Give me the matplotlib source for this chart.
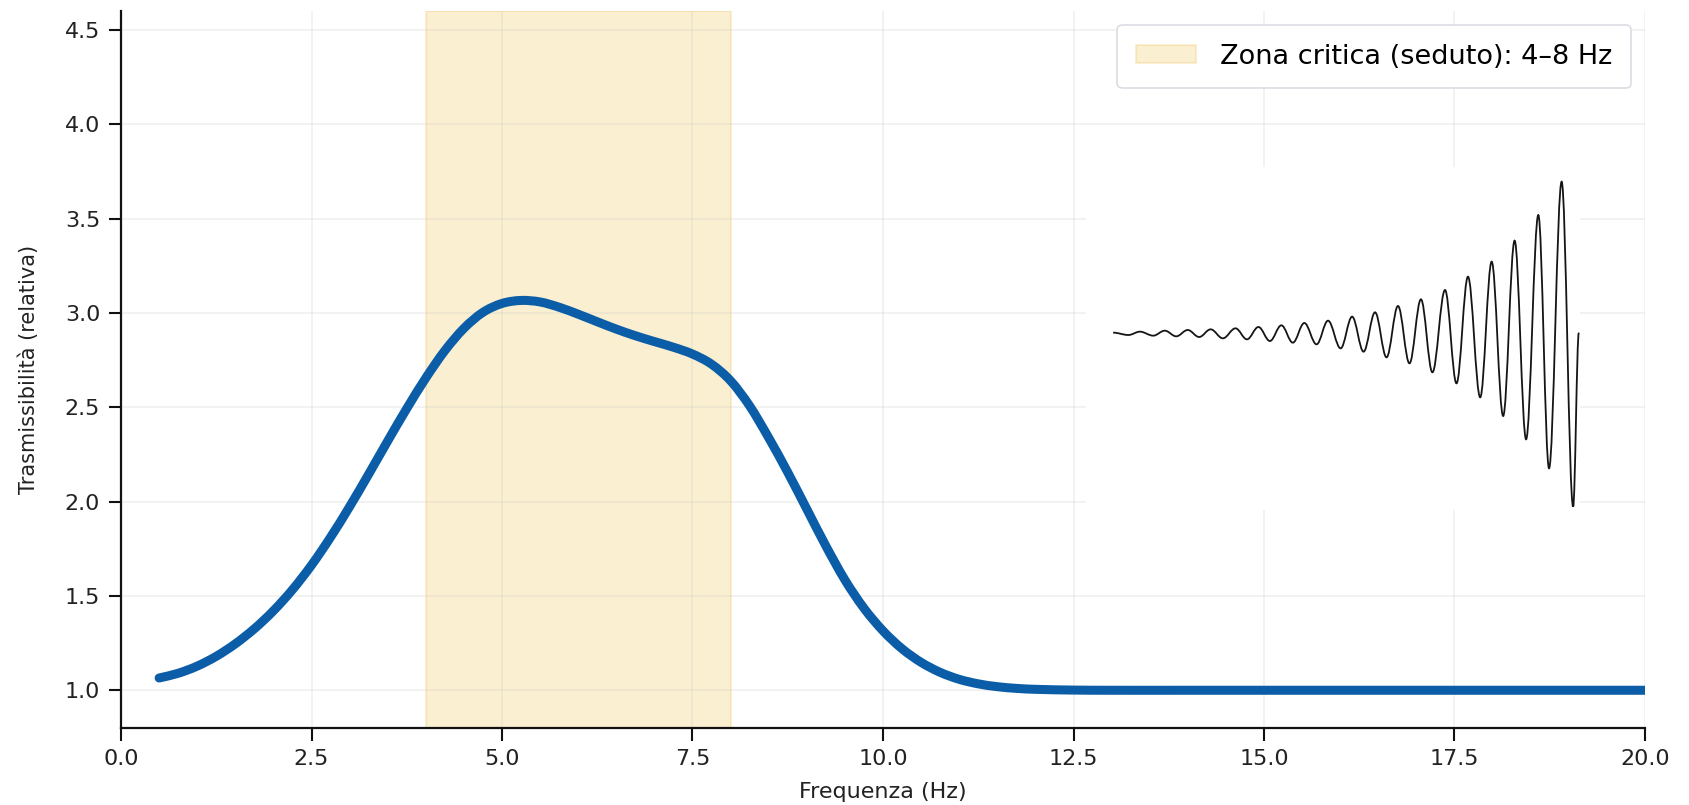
import numpy as np
import matplotlib
matplotlib.use("Agg")
import matplotlib.pyplot as plt
from matplotlib.path import Path
from matplotlib.patches import PathPatch

# ---- data ----
freq_hz = [0.5, 0.75, 1.0, 1.25, 1.5, 1.75, 2.0, 2.25, 2.5, 2.75, 3.0, 3.25,
           3.5, 3.75, 4.0, 4.25, 4.5, 4.75, 5.0, 5.25, 5.5, 5.75, 6.0, 6.25,
           6.5, 6.75, 7.0, 7.25, 7.5, 7.75, 8.0, 8.25, 8.5, 8.75, 9.0, 9.25,
           9.5, 9.75, 10.0, 10.25, 10.5, 10.75, 11.0, 11.25, 11.5, 11.75, 12.0,
           12.5, 13.0, 14.0, 15.0, 16.0, 17.0, 18.0, 19.0, 20.0]
transmissibility = [1.065, 1.09, 1.128, 1.18, 1.246, 1.326, 1.421, 1.533, 1.663,
                    1.811, 1.973, 2.145, 2.321, 2.493, 2.655, 2.80, 2.918, 3.003,
                    3.05, 3.066, 3.058, 3.03, 2.993, 2.953, 2.914, 2.879, 2.848,
                    2.818, 2.782, 2.728, 2.64, 2.507, 2.338, 2.155, 1.96, 1.765,
                    1.585, 1.435, 1.315, 1.22, 1.148, 1.095, 1.058, 1.034, 1.019,
                    1.01, 1.005, 1.001, 1.0, 1.0, 1.0, 1.0, 1.0, 1.0, 1.0, 1.0]

band_lo, band_hi = 4.0, 8.0
band_label = "Zona critica (seduto): 4–8 Hz"

# decorative waveform in the inset: extrema positions (a.u.) and amplitudes (a.u.)
wave_t = [165, 205, 235, 270, 300, 330, 360, 390, 420, 452, 485, 515, 545, 575,
          605, 635, 665, 697, 727, 760, 790, 820, 850, 880, 910, 940, 970, 1000,
          1033, 1063, 1093, 1125, 1155, 1185, 1215, 1245, 1277, 1305, 1338, 1368,
          1383]
wave_amp = [0, -7, 3, -9, 6, -11, 8, -13, 10, -17, 13, -20, 17, -25, 22, -30, 29,
            -35, 36, -47, 48, -57, 61, -74, 80, -92, 100, -119, 128, -152, 168,
            -194, 213, -250, 276, -320, 353, -407, 453, -522, 0]

xticks = [0.0, 2.5, 5.0, 7.5, 10.0, 12.5, 15.0, 17.5, 20.0]
yticks = [1.0, 1.5, 2.0, 2.5, 3.0, 3.5, 4.0, 4.5]


def smooth_path(xs, ys):
    """Catmull-Rom through the points, expressed as cubic Bezier segments."""
    pts = np.column_stack([xs, ys]).astype(float)
    n = len(pts)
    verts = [pts[0]]
    codes = [Path.MOVETO]
    for i in range(n - 1):
        p0 = pts[max(i - 1, 0)]
        p1 = pts[i]
        p2 = pts[i + 1]
        p3 = pts[min(i + 2, n - 1)]
        h = p2[0] - p1[0]
        t1 = (p2 - p0) / (p2[0] - p0[0]) * h if p2[0] != p0[0] else p2 - p1
        t2 = (p3 - p1) / (p3[0] - p1[0]) * h if p3[0] != p1[0] else p2 - p1
        c1 = p1 + t1 / 3.0
        c2 = p2 - t2 / 3.0
        verts += [c1, c2, p2]
        codes += [Path.CURVE4] * 3
    return Path(verts, codes)


def wave_path(ts, ys, k=0.3642):
    """Half-wave cubic segments with horizontal tangents at each extremum."""
    verts = [(ts[0], ys[0])]
    codes = [Path.MOVETO]
    for i in range(len(ts) - 1):
        t0, y0, t1, y1 = ts[i], ys[i], ts[i + 1], ys[i + 1]
        dt = t1 - t0
        verts += [(t0 + k * dt, y0), (t1 - k * dt, y1), (t1, y1)]
        codes += [Path.CURVE4] * 3
    return Path(verts, codes)


plt.rcParams['font.family'] = ['DejaVu Sans']

W, H = 1689, 805
fig = plt.figure(figsize=(W / 100, H / 100), dpi=100)
ax = fig.add_axes([121 / W, 1 - 728 / H, (1645 - 121) / W, (728 - 11) / H])

ax.axvspan(band_lo, band_hi, facecolor='#F2C24F', edgecolor='#EDC255',
           alpha=0.25, lw=1.5, label=band_label, zorder=1)

curve = PathPatch(smooth_path(freq_hz, transmissibility), fill=False,
                  edgecolor='#0A5DA6', lw=6.5, capstyle='round',
                  joinstyle='round', zorder=3)
ax.add_patch(curve)

ax.set_xlim(0, 20)
ax.set_ylim(0.8, 4.6)
ax.set_xticks(xticks)
ax.set_yticks(yticks)
ax.grid(True, color='#cccccc', alpha=0.3, lw=1.2)

for s in ['top', 'right']:
    ax.spines[s].set_visible(False)
for s in ['left', 'bottom']:
    ax.spines[s].set_linewidth(1.6)
    ax.spines[s].set_color('#111111')

ax.tick_params(axis='both', length=9, width=1.5, labelsize=16, pad=6,
               colors='#111111', labelcolor='#222222')

ax.set_xlabel("Frequenza (Hz)", fontsize=16, color='#222222')
ax.set_ylabel("Trasmissibilità (relativa)", fontsize=15, color='#222222')
ax.xaxis.set_label_coords(0.5, -0.075)
ax.yaxis.set_label_coords(-0.0535, 0.5)

leg = ax.legend(loc='upper right', fontsize=19.5, frameon=True, fancybox=True,
                framealpha=1.0, edgecolor='#dcdce4', borderpad=0.7,
                handlelength=2.2, handletextpad=0.9)
leg.get_frame().set_linewidth(1.2)

# inset with the growing oscillation
ins = fig.add_axes([1086 / W, 1 - 510 / H, 494 / W, 343 / H])
ins.set_facecolor('white')
ins.add_patch(PathPatch(wave_path(wave_t, wave_amp), fill=False,
                        edgecolor='#151515', lw=1.3))
ins.set_xlim(94, 1386)
ins.set_ylim(-532, 497)
ins.set_xticks([])
ins.set_yticks([])
for s in ins.spines.values():
    s.set_visible(False)

fig.savefig("out.png", dpi=100)
